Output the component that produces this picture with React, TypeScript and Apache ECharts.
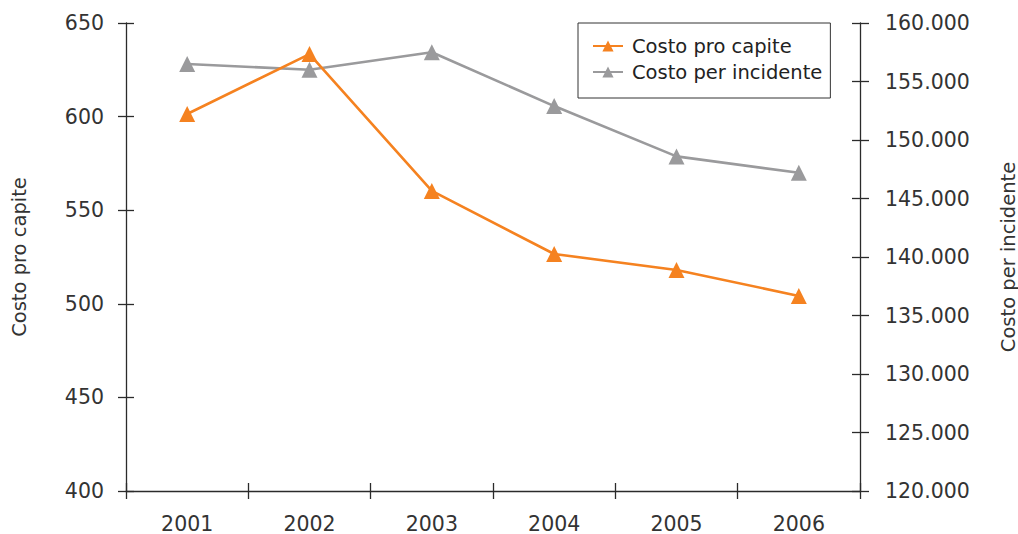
import React, { useEffect, useRef } from "react";
import * as echarts from "echarts";

const years = ["2001", "2002", "2003", "2004", "2005", "2006"];
const costoProCapite = [601.4, 633.4, 560.3, 526.6, 518.1, 504.2];
const costoPerIncidente = [156500, 156000, 157500, 152900, 148600, 147200];
const seriesNames = ["Costo pro capite", "Costo per incidente"];

const FONT = "DejaVu Sans";
const AXIS = "#2b2b2b";

function fmtThousands(v: number): string {
  const s = Math.round(v).toString();
  return s.replace(/\B(?=(\d{3})+(?!\d))/g, ".");
}

export default function App() {
  const ref = useRef<HTMLDivElement>(null);
  useEffect(() => {
    if (!ref.current) return;
    const chart = echarts.init(ref.current, undefined, { renderer: "svg" });
    const axisLine = { show: true, lineStyle: { color: AXIS, width: 1.3 } };
    const label = { color: "#333", fontFamily: FONT, fontSize: 20.5 };
    const nameStyle = { color: "#333", fontFamily: FONT, fontSize: 19.5 };
    chart.setOption({
      animation: false,
      backgroundColor: "#fff",
      grid: {
        left: 126,
        right: 158,
        top: 23,
        bottom: 43,
        containLabel: false,
        outerBoundsMode: "none",
      },
      legend: {
        orient: "vertical",
        left: 578,
        top: 23,
        data: seriesNames,
        borderColor: "#333",
        borderWidth: 1,
        padding: [13, 8, 16, 14],
        itemWidth: 30,
        itemHeight: 14,
        itemGap: 6,
        textStyle: { color: "#222", fontFamily: FONT, fontSize: 19.5, padding: [0, 0, 0, 4] },
      },
      xAxis: [
        {
          type: "category",
          data: years,
          boundaryGap: true,
          position: "bottom",
          axisLine,
          axisTick: { show: true, length: 8, inside: false, lineStyle: { color: AXIS, width: 1.3 } },
          axisLabel: { ...label, margin: 22 },
          splitLine: { show: false },
        },
        {
          type: "category",
          data: years,
          boundaryGap: true,
          position: "bottom",
          axisLine: { show: false },
          axisTick: { show: true, length: 8, inside: true, lineStyle: { color: AXIS, width: 1.3 } },
          axisLabel: { show: false },
          splitLine: { show: false },
        },
      ],
      yAxis: [
        {
          type: "value",
          position: "left",
          min: 400,
          max: 650,
          interval: 50,
          name: seriesNames[0],
          nameLocation: "middle",
          nameRotate: 90,
          nameGap: 97,
          nameTextStyle: nameStyle,
          axisLine,
          axisTick: { show: true, length: 8, lineStyle: { color: AXIS, width: 1.3 } },
          axisLabel: { ...label, margin: 22 },
          splitLine: { show: false },
        },
        {
          type: "value",
          position: "right",
          min: 120000,
          max: 160000,
          interval: 5000,
          name: seriesNames[1],
          nameLocation: "middle",
          nameRotate: 90,
          nameGap: 138,
          nameTextStyle: nameStyle,
          axisLine,
          axisTick: { show: true, length: 9, lineStyle: { color: AXIS, width: 1.3 } },
          axisLabel: { ...label, margin: 25, formatter: (v: number) => fmtThousands(v) },
          splitLine: { show: false },
        },
        {
          type: "value",
          position: "left",
          min: 400,
          max: 650,
          interval: 50,
          axisLine: { show: false },
          axisTick: { show: true, inside: true, length: 8, lineStyle: { color: AXIS, width: 1.3 } },
          axisLabel: { show: false },
          splitLine: { show: false },
        },
        {
          type: "value",
          position: "right",
          min: 120000,
          max: 160000,
          interval: 5000,
          axisLine: { show: false },
          axisTick: { show: true, inside: true, length: 8, lineStyle: { color: AXIS, width: 1.3 } },
          axisLabel: { show: false },
          splitLine: { show: false },
        },
      ],
      series: [
        {
          name: seriesNames[1],
          type: "line",
          yAxisIndex: 1,
          data: costoPerIncidente,
          symbol: "triangle",
          symbolSize: 16,
          itemStyle: { color: "#9A9A9C" },
          lineStyle: { color: "#9A9A9C", width: 2.6 },
          z: 2,
        },
        {
          name: seriesNames[0],
          type: "line",
          yAxisIndex: 0,
          data: costoProCapite,
          symbol: "triangle",
          symbolSize: 16,
          itemStyle: { color: "#F58220" },
          lineStyle: { color: "#F58220", width: 2.6 },
          z: 3,
        },
      ],
    });
    return () => chart.dispose();
  }, []);
  return (
    <div
      ref={ref}
      style={{ position: "fixed", left: 0, top: 0, width: 1018, height: 534, background: "#fff" }}
    />
  );
}
